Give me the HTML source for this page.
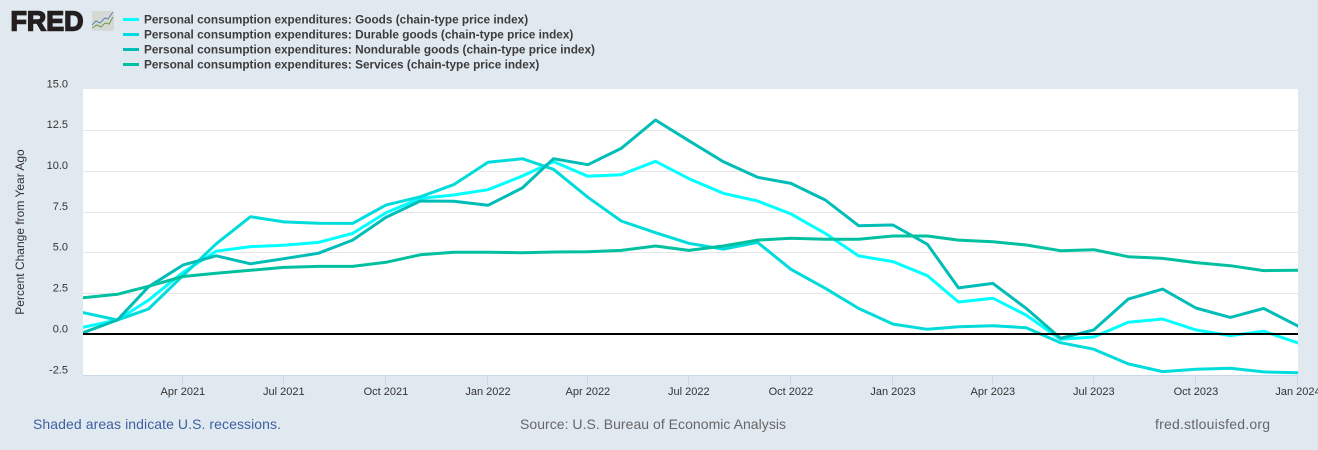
<!DOCTYPE html>
<html lang="en">
<head>
<meta charset="utf-8">
<title>FRED Personal Consumption Expenditures Chart</title>
<style>
html,body{margin:0;padding:0;background:#e1e9f0;}
body{width:1318px;height:450px;overflow:hidden;font-family:"Liberation Sans",sans-serif;}
svg{display:block;}
text{font-family:"Liberation Sans",sans-serif;}
</style>
</head>
<body>
<svg id="chart" xmlns="http://www.w3.org/2000/svg" width="1318" height="450" viewBox="0 0 1318 450">
  <rect x="0" y="0" width="1318" height="450" fill="#e1e9f0"/>
  <g>
    <text x="10.5" y="30.5" font-size="28" font-weight="700" fill="#231f20" stroke="#231f20" stroke-width="1.5" textLength="73" lengthAdjust="spacingAndGlyphs">FRED</text>
    <rect x="92" y="11" width="22" height="20" rx="2" fill="#d6d8d6"/>
    <polyline points="92,25 96,21 100,23 105,18 108,19 113,12" fill="none" stroke="#5b87a8" stroke-width="1"/>
    <polyline points="92,28 97,25 101,27 105,23 109,24 113,17" fill="none" stroke="#6f9a45" stroke-width="1"/>
  </g>
  <g id="legend"></g>
  <rect x="83" y="89" width="1215" height="286" fill="#ffffff"/>
  <g id="grid"></g>
  <g id="xaxis"></g>
  <g id="yaxis"></g>
  <text transform="translate(24,232) rotate(-90)" text-anchor="middle" font-size="12" fill="#333333">Percent Change from Year Ago</text>
  <defs><clipPath id="plot-clip"><rect x="83" y="89" width="1215" height="286"/></clipPath></defs>
  <g id="series" clip-path="url(#plot-clip)"></g>
  <line x1="83" x2="1298" y1="334" y2="334" stroke="#000000" stroke-width="2"/>
  <text x="33" y="429" font-size="14" fill="#3e5f9e" textLength="248">Shaded areas indicate U.S. recessions.</text>
  <text x="520" y="429" font-size="14" fill="#666666" textLength="266">Source: U.S. Bureau of Economic Analysis</text>
  <text x="1155" y="429" font-size="14" fill="#666666" textLength="115">fred.stlouisfed.org</text>
</svg>
<script>
var startYear = 2021;
var goods = [0.39,0.84,2.05,3.75,5.05,5.33,5.41,5.59,6.14,7.4,8.28,8.49,8.81,9.65,10.53,9.63,9.73,10.55,9.49,8.59,8.12,7.33,6.14,4.76,4.41,3.55,1.94,2.17,1.14,-0.34,-0.2,0.7,0.9,0.23,-0.12,0.15,-0.57];
var durable = [1.29,0.84,1.51,3.55,5.5,7.16,6.84,6.76,6.75,7.87,8.38,9.12,10.49,10.71,10.06,8.35,6.9,6.18,5.53,5.18,5.59,3.94,2.78,1.55,0.59,0.27,0.43,0.49,0.37,-0.55,-0.95,-1.85,-2.32,-2.18,-2.12,-2.34,-2.39];
var nondurable = [0.06,0.84,2.87,4.2,4.77,4.28,4.59,4.92,5.73,7.12,8.12,8.1,7.86,8.92,10.71,10.34,11.34,13.08,11.81,10.53,9.57,9.2,8.18,6.61,6.65,5.47,2.8,3.08,1.55,-0.28,0.23,2.12,2.73,1.57,1.0,1.55,0.47];
var services = [2.2,2.41,2.9,3.5,3.7,3.88,4.06,4.12,4.12,4.37,4.83,4.98,4.98,4.96,5.0,5.02,5.1,5.37,5.1,5.37,5.73,5.84,5.78,5.78,5.98,5.98,5.73,5.63,5.43,5.08,5.14,4.71,4.61,4.35,4.16,3.86,3.88];
var seriesNames = ["Personal consumption expenditures: Goods (chain-type price index)","Personal consumption expenditures: Durable goods (chain-type price index)","Personal consumption expenditures: Nondurable goods (chain-type price index)","Personal consumption expenditures: Services (chain-type price index)"];
var seriesKeys = ["goods","durable-goods","nondurable-goods","services"];
var seriesColors = ["#00ffff","#00dcdc","#00bdb7","#00c0a0"];
var yTickValues = [15,12.5,10,7.5,5,2.5,0,-2.5];
var xTickMonths = [3,6,9,12,15,18,21,24,27,30,33,36];
var monthNames = ["Jan","Feb","Mar","Apr","May","Jun","Jul","Aug","Sep","Oct","Nov","Dec"];

var NS = "http://www.w3.org/2000/svg";
function make(tag, attrs, parent, txt) {
  var el = document.createElementNS(NS, tag);
  for (var k in attrs) el.setAttribute(k, attrs[k]);
  if (txt !== undefined) el.textContent = txt;
  parent.appendChild(el);
  return el;
}
function dateOf(i) { return Date.UTC(startYear, i, 1); }
var t0 = dateOf(0), t1 = dateOf(36);
function xScale(i) { return 83 + (dateOf(i) - t0) / (t1 - t0) * 1215; }
function yScale(v) { return 333.7 - v * 16.34; }

var grid = document.getElementById("grid");
var yaxis = document.getElementById("yaxis");
yTickValues.forEach(function (v) {
  if (v !== 15 && v !== -2.5 && v !== 0) {
    var y = Math.floor(yScale(v) + 0.95) + 0.5;
    var g = make("line", {x1: 83, x2: 1298, y1: y, y2: y, stroke: "#e6e6e6", "stroke-width": 1}, grid);
    
    
  }
  var t = make("text", {x: 68, y: yScale(v) - 1.3, "text-anchor": "end", "font-size": 11, fill: "#333333"}, yaxis, v.toFixed(1));
  
  
});

var xaxis = document.getElementById("xaxis");
var axisLine = make("line", {x1: 83, x2: 1298, y1: 375.5, y2: 375.5, stroke: "#ccd6eb", "stroke-width": 1}, xaxis);


xTickMonths.forEach(function (m) {
  var x = Math.round(xScale(m)) - 0.5;
  var tick = make("line", {x1: x, x2: x, y1: 375, y2: 385, stroke: "#ccd6eb", "stroke-width": 1}, xaxis);
  
  
  var d = new Date(dateOf(m));
  var label = monthNames[d.getUTCMonth()] + " " + d.getUTCFullYear();
  var t = make("text", {x: xScale(m), y: 395, "text-anchor": "middle", "font-size": 11, fill: "#333333"}, xaxis, label);
  
  
});

var seriesGroup = document.getElementById("series");
[goods, durable, nondurable, services].forEach(function (vals, s) {
  var pts = vals.map(function (v, i) { return xScale(i).toFixed(1) + "," + yScale(v).toFixed(1); }).join(" ");
  var line = make("polyline", {points: pts, fill: "none", stroke: seriesColors[s], "stroke-width": 3, "stroke-linejoin": "round", "stroke-linecap": "round"}, seriesGroup);
  
  
});

var legend = document.getElementById("legend");
seriesNames.forEach(function (name, s) {
  var y = 19.5 + s * 15;
  var swatch = make("line", {x1: 123, x2: 139, y1: y, y2: y, stroke: seriesColors[s], "stroke-width": 3}, legend);
  
  
  var t = make("text", {x: 144, y: y + 4, "font-size": 11.8, "font-weight": 700, fill: "#3c3c3c"}, legend, name);
  
  
});
</script>
</body>
</html>
